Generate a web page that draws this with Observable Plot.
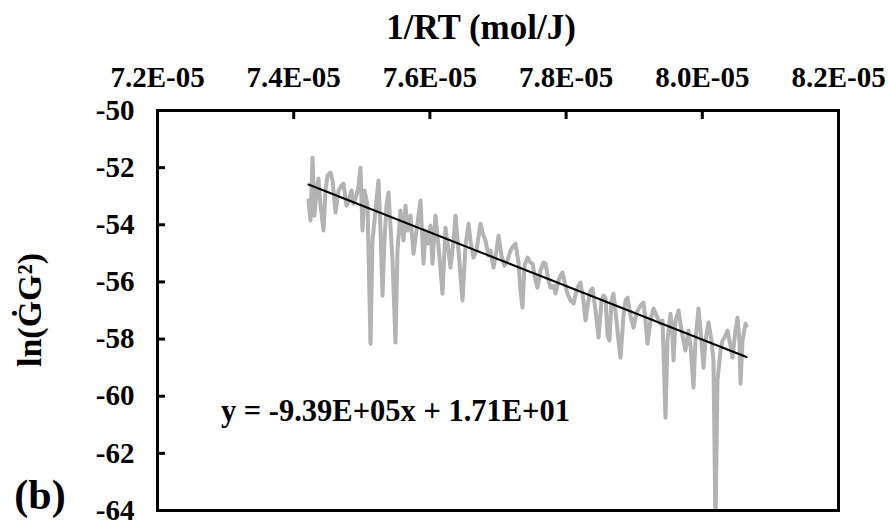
<!DOCTYPE html>
<html><head><meta charset="utf-8">
<script src="https://cdn.jsdelivr.net/npm/d3@7"></script>
<script src="https://cdn.jsdelivr.net/npm/@observablehq/plot@0.6"></script>
<style>
body{margin:0;background:#fff;}
#wrap{position:relative;width:888px;height:522px;font-family:"Liberation Serif","Times New Roman",serif;font-weight:bold;color:#000;overflow:hidden;}
#wrap svg{position:absolute;left:0;top:0;}
#wrap svg, #wrap svg text, #wrap svg g{font-family:"Liberation Serif","Times New Roman",serif !important;font-weight:bold !important;}
.ov{position:absolute;white-space:nowrap;line-height:1;}
#title{font-size:35px;left:481px;top:10px;transform:translateX(-50%);}
#ylab{font-size:34px;left:30px;top:310px;transform:translate(-50%,-50%) rotate(-90deg);}
#panel{font-size:42px;left:40px;top:495px;transform:translate(-50%,-50%);}
#eq{font-size:30.5px;right:318px;top:396px;}
</style></head><body>
<div id="wrap">
<div class="ov" id="title">1/RT (mol/J)</div>
<div class="ov" id="ylab">ln(ĠG²)</div>
<div class="ov" id="panel">(b)</div>
<div class="ov" id="eq">y = -9.39E+05x + 1.71E+01</div>
</div>
<script>
// 1/RT (mol/J), in units of 1e-5
const invRT = [
7.4217,7.4247,7.4276,7.4305,7.4335,7.4364,7.4394,7.4438,7.4467,7.4496,
7.4540,7.4570,7.4614,7.4658,7.4702,7.4731,7.4775,7.4805,7.4849,7.4878,
7.4922,7.4952,7.4981,7.5010,7.5040,7.5084,7.5128,7.5157,7.5201,7.5245,
7.5275,7.5304,7.5333,7.5363,7.5392,7.5421,7.5451,7.5495,7.5524,7.5568,
7.5612,7.5642,7.5671,7.5715,7.5759,7.5803,7.5862,7.5906,7.5935,7.5965,
7.6009,7.6038,7.6082,7.6126,7.6185,7.6229,7.6273,7.6302,7.6347,7.6376,
7.6420,7.6479,7.6523,7.6567,7.6596,7.6640,7.6684,7.6743,7.6787,7.6816,
7.6861,7.6890,7.6934,7.6978,7.7007,7.7051,7.7095,7.7140,7.7184,7.7228,
7.7257,7.7301,7.7330,7.7360,7.7389,7.7433,7.7477,7.7507,7.7551,7.7580,
7.7624,7.7668,7.7697,7.7742,7.7771,7.7815,7.7844,7.7888,7.7918,7.7947,
7.7991,7.8021,7.8065,7.8109,7.8153,7.8182,7.8211,7.8255,7.8285,7.8329,
7.8358,7.8388,7.8432,7.8476,7.8520,7.8549,7.8579,7.8608,7.8637,7.8667,
7.8696,7.8740,7.8769,7.8799,7.8843,7.8872,7.8902,7.8946,7.8990,7.9034,
7.9093,7.9137,7.9166,7.9195,7.9239,7.9283,7.9327,7.9386,7.9416,7.9460,
7.9489,7.9533,7.9562,7.9577,7.9607,7.9651,7.9695,7.9753,7.9797,7.9827,
7.9871,7.9900,7.9944,7.9974,8.0018,8.0047,8.0091,8.0135,8.0164,8.0194,
8.0223,8.0267,8.0297,8.0341,8.0370,8.0414,8.0443,8.0487,8.0517,8.0546,
8.0561,8.0590,8.0634,8.0649
];
// ln(G-dot * G^2)
const lnGG = [
-53.15,-53.85,-51.65,-53.68,-52.80,-52.38,-53.33,-54.20,-52.80,-52.28,
-52.17,-52.45,-53.57,-52.80,-52.63,-52.56,-53.33,-53.15,-52.80,-53.26,
-52.98,-52.63,-52.00,-54.20,-52.80,-53.33,-58.16,-54.55,-53.50,-52.45,
-54.20,-56.48,-54.55,-53.33,-52.87,-54.03,-55.25,-58.12,-54.90,-53.50,
-54.55,-53.33,-54.20,-53.68,-55.01,-54.20,-53.15,-55.36,-54.20,-54.66,
-54.03,-55.36,-53.68,-54.73,-56.41,-54.10,-54.90,-55.50,-54.55,-53.68,
-54.90,-56.65,-54.73,-53.96,-54.55,-55.15,-54.90,-53.96,-54.38,-54.55,
-55.08,-54.90,-55.50,-54.90,-54.38,-55.08,-55.43,-55.25,-54.90,-54.73,
-54.66,-55.32,-56.30,-56.90,-55.43,-55.15,-55.32,-55.36,-55.95,-56.20,
-55.60,-55.32,-55.36,-55.95,-56.20,-56.13,-56.41,-55.95,-55.78,-55.67,
-56.13,-56.41,-56.65,-56.76,-56.30,-56.13,-56.02,-56.65,-57.35,-56.65,
-56.30,-56.23,-57.00,-57.95,-56.65,-56.48,-56.55,-57.88,-58.05,-56.65,
-56.41,-57.35,-58.05,-58.65,-57.18,-56.65,-56.55,-57.18,-57.60,-57.07,
-56.83,-56.72,-57.35,-58.16,-57.35,-56.93,-57.18,-57.46,-57.35,-60.75,
-58.05,-57.11,-57.88,-58.75,-57.35,-57.00,-57.70,-58.40,-57.70,-58.23,
-59.70,-58.05,-56.93,-57.70,-59.00,-58.05,-57.42,-58.05,-58.75,-64.60,
-59.45,-58.40,-58.05,-57.88,-57.70,-58.23,-58.65,-57.70,-57.25,-58.05,
-59.56,-58.05,-57.46,-57.53
];
const xTicks = [7.2e-5, 7.4e-5, 7.6e-5, 7.8e-5, 8.0e-5, 8.2e-5];
const yTicks = [-64, -62, -60, -58, -56, -54, -52, -50];
const slope = -9.39e5, intercept = 17.1;

const data = invRT.map((v, i) => ({x: v * 1e-5, y: lnGG[i]}));
const xs = data.map(d => d.x);
const fit = [d3.min(xs), d3.max(xs)].map(x => ({x, y: slope * x + intercept}));
const font = "Liberation Serif, Times New Roman, serif";

const chart = Plot.plot({
  width: 888, height: 522,
  marginLeft: 157, marginRight: 50, marginTop: 110, marginBottom: 12,
  x: {domain: [7.2e-5, 8.2e-5]},
  y: {domain: [-64, -50]},
  style: {fontFamily: font, fontWeight: "bold", background: "transparent", color: "#000"},
  marks: [
    Plot.line(data, {x: "x", y: "y", stroke: "#b3b3b3", strokeWidth: 4, strokeLinejoin: "round", clip: true}),
    Plot.line(fit, {x: "x", y: "y", stroke: "#000", strokeWidth: 2}),
    Plot.frame({stroke: "#000", strokeWidth: 3}),
    Plot.axisX({ticks: xTicks, anchor: "top", tickSize: 0, tickPadding: 24, fontSize: 29,
      tickFormat: d => (d * 1e5).toFixed(1) + "E-05", label: null}),
    Plot.axisX({ticks: xTicks.slice(1, -1), anchor: "top", tickSize: -8, strokeWidth: 3,
      tickFormat: () => "", label: null}),
    Plot.axisY({ticks: yTicks, anchor: "left", tickSize: 0, tickPadding: 23, fontSize: 29,
      tickFormat: d => String(d), label: null}),
    Plot.axisY({ticks: yTicks.slice(1, -1), anchor: "left", tickSize: -8, strokeWidth: 3,
      tickFormat: () => "", label: null})
  ]
});
const wrap = document.getElementById("wrap");
wrap.insertBefore(chart, wrap.firstChild);
</script>
</body></html>
